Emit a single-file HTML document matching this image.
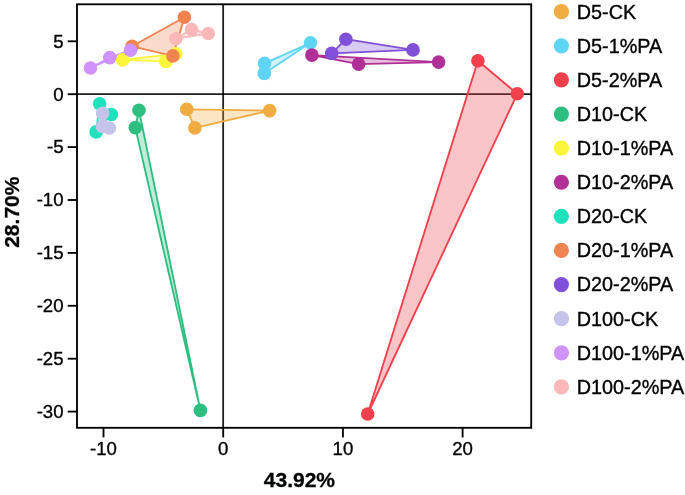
<!DOCTYPE html>
<html><head><meta charset="utf-8"><title>PCA</title>
<style>
html,body{margin:0;padding:0;background:#fff;}
body{width:685px;height:495px;overflow:hidden;}
svg{display:block;will-change:transform;}
text{font-family:"Liberation Sans",sans-serif;fill:#000;}
.t{font-size:18.6px;stroke:#000;stroke-width:0.35px;}
.l{font-size:19.8px;stroke:#000;stroke-width:0.35px;}
.a{font-size:21.0px;font-weight:bold;stroke:#000;stroke-width:0.3px;}
</style></head><body>
<svg width="685" height="495" viewBox="0 0 685 495">
<rect x="0" y="0" width="685" height="495" fill="#fff"/>

<line x1="77.0" y1="94.2" x2="531.2" y2="94.2" stroke="#000" stroke-opacity="0.88" stroke-width="1.8"/>
<line x1="223.15" y1="4.3" x2="223.15" y2="427.8" stroke="#000" stroke-opacity="0.88" stroke-width="1.8"/>
<polygon points="186.8,109.3 194.9,127.9 269.7,110.6" fill="#F0AC40" fill-opacity="0.3" stroke="#F0AC40" stroke-width="1.85" stroke-linejoin="round"/>
<polygon points="310.5,42.8 264.5,63.3 264.3,73.4" fill="#60D4F4" fill-opacity="0.3" stroke="#60D4F4" stroke-width="1.85" stroke-linejoin="round"/>
<polygon points="477.9,60.7 517.3,93.8 367.7,414.0" fill="#F0404C" fill-opacity="0.3" stroke="#F0404C" stroke-width="1.85" stroke-linejoin="round"/>
<polygon points="139,110.2 135.3,127.6 200.4,410.4" fill="#2DBE80" fill-opacity="0.3" stroke="#2DBE80" stroke-width="1.85" stroke-linejoin="round"/>
<polygon points="122.6,59.9 166.0,61.4 175.8,53.8" fill="#FBF53A" fill-opacity="0.3" stroke="#FBF53A" stroke-width="1.85" stroke-linejoin="round"/>
<polygon points="311.9,55.1 358.6,64.1 438.6,62.1" fill="#B03098" fill-opacity="0.3" stroke="#B03098" stroke-width="1.85" stroke-linejoin="round"/>
<polygon points="99.6,103.8 111.4,114.5 96.1,131.9" fill="#1EE2BE" fill-opacity="0.3" stroke="#1EE2BE" stroke-width="1.85" stroke-linejoin="round"/>
<polygon points="184.4,17.3 132.1,46.3 172.9,55.9" fill="#F08450" fill-opacity="0.3" stroke="#F08450" stroke-width="1.85" stroke-linejoin="round"/>
<polygon points="345.9,39.2 331.7,53.4 413.0,49.9" fill="#8050D8" fill-opacity="0.3" stroke="#8050D8" stroke-width="1.85" stroke-linejoin="round"/>
<polygon points="102.7,113.2 102.4,126.4 109.4,128.0" fill="#C5C3E9" fill-opacity="0.3" stroke="#C5C3E9" stroke-width="1.85" stroke-linejoin="round"/>
<polygon points="90.4,68.0 109.8,57.6 130.5,50.2" fill="#CF93FB" fill-opacity="0.3" stroke="#CF93FB" stroke-width="1.85" stroke-linejoin="round"/>
<polygon points="191.5,29.5 208.3,33.5 175.8,38.7" fill="#FCB8B8" fill-opacity="0.3" stroke="#FCB8B8" stroke-width="1.85" stroke-linejoin="round"/>
<circle cx="186.8" cy="109.3" r="6.8" fill="#F0AC40"/>
<circle cx="194.9" cy="127.9" r="6.8" fill="#F0AC40"/>
<circle cx="269.7" cy="110.6" r="6.8" fill="#F0AC40"/>
<circle cx="310.5" cy="42.8" r="6.8" fill="#60D4F4"/>
<circle cx="264.5" cy="63.3" r="6.8" fill="#60D4F4"/>
<circle cx="264.3" cy="73.4" r="6.8" fill="#60D4F4"/>
<circle cx="477.9" cy="60.7" r="6.8" fill="#F0404C"/>
<circle cx="517.3" cy="93.8" r="6.8" fill="#F0404C"/>
<circle cx="367.7" cy="414.0" r="6.8" fill="#F0404C"/>
<circle cx="139" cy="110.2" r="6.8" fill="#2DBE80"/>
<circle cx="135.3" cy="127.6" r="6.8" fill="#2DBE80"/>
<circle cx="200.4" cy="410.4" r="6.8" fill="#2DBE80"/>
<circle cx="122.6" cy="59.9" r="6.8" fill="#FBF53A"/>
<circle cx="166.0" cy="61.4" r="6.8" fill="#FBF53A"/>
<circle cx="175.8" cy="53.8" r="6.8" fill="#FBF53A"/>
<circle cx="311.9" cy="55.1" r="6.8" fill="#B03098"/>
<circle cx="358.6" cy="64.1" r="6.8" fill="#B03098"/>
<circle cx="438.6" cy="62.1" r="6.8" fill="#B03098"/>
<circle cx="99.6" cy="103.8" r="6.8" fill="#1EE2BE"/>
<circle cx="111.4" cy="114.5" r="6.8" fill="#1EE2BE"/>
<circle cx="96.1" cy="131.9" r="6.8" fill="#1EE2BE"/>
<circle cx="184.4" cy="17.3" r="6.8" fill="#F08450"/>
<circle cx="132.1" cy="46.3" r="6.8" fill="#F08450"/>
<circle cx="172.9" cy="55.9" r="6.8" fill="#F08450"/>
<circle cx="345.9" cy="39.2" r="6.8" fill="#8050D8"/>
<circle cx="331.7" cy="53.4" r="6.8" fill="#8050D8"/>
<circle cx="413.0" cy="49.9" r="6.8" fill="#8050D8"/>
<circle cx="102.7" cy="113.2" r="6.8" fill="#C5C3E9"/>
<circle cx="102.4" cy="126.4" r="6.8" fill="#C5C3E9"/>
<circle cx="109.4" cy="128.0" r="6.8" fill="#C5C3E9"/>
<circle cx="90.4" cy="68.0" r="6.8" fill="#CF93FB"/>
<circle cx="109.8" cy="57.6" r="6.8" fill="#CF93FB"/>
<circle cx="130.5" cy="50.2" r="6.8" fill="#CF93FB"/>
<circle cx="191.5" cy="29.5" r="6.8" fill="#FCB8B8"/>
<circle cx="208.3" cy="33.5" r="6.8" fill="#FCB8B8"/>
<circle cx="175.8" cy="38.7" r="6.8" fill="#FCB8B8"/>
<rect x="77.0" y="4.3" width="454.20000000000005" height="423.5" fill="none" stroke="#000" stroke-width="1.85"/>
<line x1="67.7" y1="41.30" x2="77.0" y2="41.30" stroke="#000" stroke-width="1.85"/>
<text class="t" x="63.5" y="47.60" text-anchor="end">5</text>
<line x1="67.7" y1="94.20" x2="77.0" y2="94.20" stroke="#000" stroke-width="1.85"/>
<text class="t" x="63.5" y="100.50" text-anchor="end">0</text>
<line x1="67.7" y1="147.10" x2="77.0" y2="147.10" stroke="#000" stroke-width="1.85"/>
<text class="t" x="63.5" y="153.40" text-anchor="end">-5</text>
<line x1="67.7" y1="200.00" x2="77.0" y2="200.00" stroke="#000" stroke-width="1.85"/>
<text class="t" x="63.5" y="206.30" text-anchor="end">-10</text>
<line x1="67.7" y1="252.90" x2="77.0" y2="252.90" stroke="#000" stroke-width="1.85"/>
<text class="t" x="63.5" y="259.20" text-anchor="end">-15</text>
<line x1="67.7" y1="305.80" x2="77.0" y2="305.80" stroke="#000" stroke-width="1.85"/>
<text class="t" x="63.5" y="312.10" text-anchor="end">-20</text>
<line x1="67.7" y1="358.70" x2="77.0" y2="358.70" stroke="#000" stroke-width="1.85"/>
<text class="t" x="63.5" y="365.00" text-anchor="end">-25</text>
<line x1="67.7" y1="411.60" x2="77.0" y2="411.60" stroke="#000" stroke-width="1.85"/>
<text class="t" x="63.5" y="417.90" text-anchor="end">-30</text>
<line x1="103.50" y1="427.8" x2="103.50" y2="437.40000000000003" stroke="#000" stroke-width="1.85"/>
<text class="t" x="103.50" y="455.0" text-anchor="middle">-10</text>
<line x1="223.20" y1="427.8" x2="223.20" y2="437.40000000000003" stroke="#000" stroke-width="1.85"/>
<text class="t" x="223.20" y="455.0" text-anchor="middle">0</text>
<line x1="342.90" y1="427.8" x2="342.90" y2="437.40000000000003" stroke="#000" stroke-width="1.85"/>
<text class="t" x="342.90" y="455.0" text-anchor="middle">10</text>
<line x1="462.60" y1="427.8" x2="462.60" y2="437.40000000000003" stroke="#000" stroke-width="1.85"/>
<text class="t" x="462.60" y="455.0" text-anchor="middle">20</text>
<text class="a" x="299.4" y="487.3" text-anchor="middle">43.92%</text>
<text class="a" transform="translate(18.9,212.2) rotate(-90)" text-anchor="middle">28.70%</text>
<circle cx="561.4" cy="11.70" r="7.6" fill="#F0AC40"/>
<text class="l" x="576.8" y="18.60">D5-CK</text>
<circle cx="561.4" cy="45.81" r="7.6" fill="#60D4F4"/>
<text class="l" x="576.8" y="52.71">D5-1%PA</text>
<circle cx="561.4" cy="79.92" r="7.6" fill="#F0404C"/>
<text class="l" x="576.8" y="86.82">D5-2%PA</text>
<circle cx="561.4" cy="114.03" r="7.6" fill="#2DBE80"/>
<text class="l" x="576.8" y="120.93">D10-CK</text>
<circle cx="561.4" cy="148.14" r="7.6" fill="#FBF53A"/>
<text class="l" x="576.8" y="155.04">D10-1%PA</text>
<circle cx="561.4" cy="182.25" r="7.6" fill="#B03098"/>
<text class="l" x="576.8" y="189.15">D10-2%PA</text>
<circle cx="561.4" cy="216.36" r="7.6" fill="#1EE2BE"/>
<text class="l" x="576.8" y="223.26">D20-CK</text>
<circle cx="561.4" cy="250.47" r="7.6" fill="#F08450"/>
<text class="l" x="576.8" y="257.37">D20-1%PA</text>
<circle cx="561.4" cy="284.58" r="7.6" fill="#8050D8"/>
<text class="l" x="576.8" y="291.48">D20-2%PA</text>
<circle cx="561.4" cy="318.69" r="7.6" fill="#C5C3E9"/>
<text class="l" x="576.8" y="325.59">D100-CK</text>
<circle cx="561.4" cy="352.80" r="7.6" fill="#CF93FB"/>
<text class="l" x="576.8" y="359.70">D100-1%PA</text>
<circle cx="561.4" cy="386.91" r="7.6" fill="#FCB8B8"/>
<text class="l" x="576.8" y="393.81">D100-2%PA</text>
</svg></body></html>
